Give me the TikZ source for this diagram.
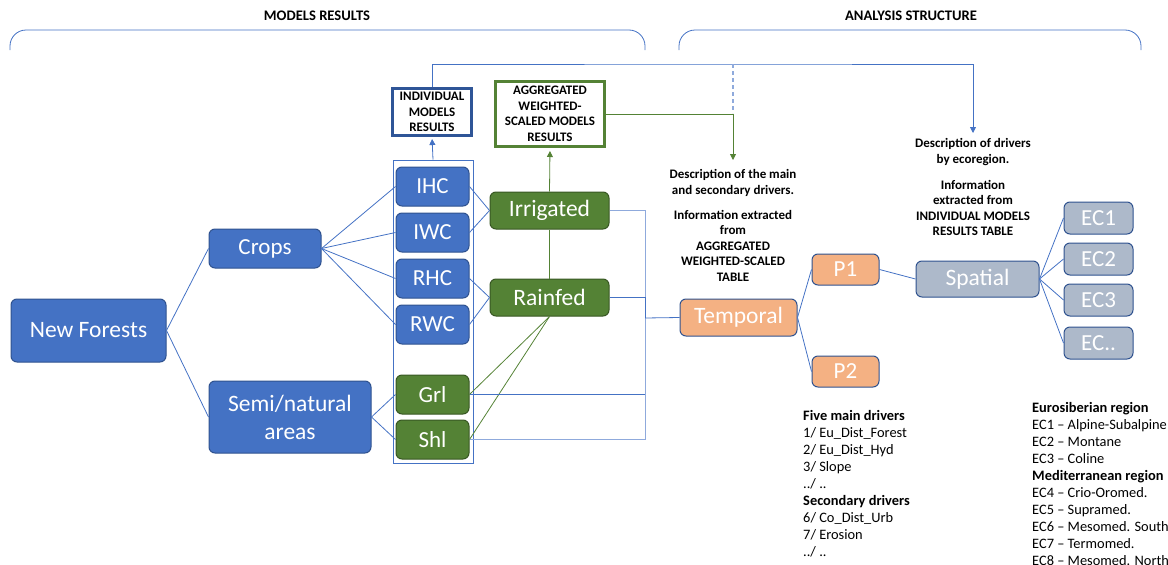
\documentclass[tikz,border=0pt]{standalone}
\usepackage{fontspec}
\setmainfont{Carlito}
\usetikzlibrary{positioning,arrows.meta}
\definecolor{bl1}{RGB}{68,114,196}
\definecolor{bl2}{RGB}{47,82,143}
\definecolor{bl3}{RGB}{47,85,151}
\definecolor{bl4}{RGB}{143,170,220}
\definecolor{gr1}{RGB}{84,130,53}
\definecolor{gr2}{RGB}{56,87,35}
\definecolor{or1}{RGB}{244,177,131}
\definecolor{sl1}{RGB}{173,185,202}

\begin{document}
\begin{tikzpicture}[
    x=1pt, y=-1pt,
    e/.style={
        rounded corners=6pt, draw=bl2, line width=1pt,
        text=white, inner sep=0pt,
        font=\fontsize{23}{27}\selectfont
    },
    eb/.style={e, fill=bl1},
    eg/.style={e, fill=gr1, draw=gr2},
    eo/.style={e, fill=or1},
    es/.style={e, fill=sl1},
    big/.style={font=\fontsize{23.5}{28}\selectfont},
    sm/.style={minimum width=73, minimum height=39},
    ec/.style={es, minimum width=69, minimum height=32},
    l/.style={line width=0.8pt, color=bl1},
    ll/.style={line width=0.8pt, color=bl4},
    lg/.style={line width=0.8pt, color=gr1},
    d/.style={dash pattern=on 4pt off 3pt, line width=1.3pt, color=bl4},
    ar/.style={-{Triangle[width=6pt,length=6pt]}},
    hd/.style={font=\bfseries\fontsize{14.6}{17}\selectfont},
    tb/.style={align=center, inner sep=0pt, font=\bfseries\fontsize{13}{15.5}\selectfont},
    tl/.style={align=left, anchor=north west, inner sep=0pt, font=\fontsize{14.4}{17}\selectfont}
]
\clip (0,0) rectangle (1168,565);

% headers
\node [hd] (h1) at (317,16) {MODELS RESULTS};
\node [hd] (h2) at (911,16) {ANALYSIS STRUCTURE};
\draw [l, rounded corners=16pt] (10,50) |- (327,30) -| (645,50);
\draw [l, rounded corners=16pt] (679,50) |- (910,30) -| (1141,50);

% models
\node [eb, big, minimum width=155, minimum height=63] (nf) at (88.5,330.5) {New Forests};
\node [eb, minimum width=112, minimum height=39] (crops) at (265,248.5) {Crops};
\node [eb, minimum width=162, minimum height=72, align=center, font=\fontsize{23.5}{28}\selectfont] (semi) at (290,417) {Semi/natural\\areas};

\node [draw=bl1, line width=0.8pt, minimum width=80, minimum height=303] (col) at (433,311.5) {};
\node [eb, sm] (ihc) at (432.5,186.5) {IHC};
\node [eb, sm, below=6pt of ihc] (iwc) {IWC};
\node [eb, sm, below=6pt of iwc] (rhc) {RHC};
\node [eb, sm, below=6pt of rhc] (rwc) {RWC};
\node [eg, sm] (grl) at (432.5,394.5) {Grl};
\node [eg, sm, below=5pt of grl] (shl) {Shl};

\node [eg, big, minimum width=119, minimum height=37] (irr) at (549.5,210.5) {Irrigated};
\node [eg, big, minimum width=119, minimum height=37] (rain) at (549.5,297.5) {Rainfed};

\node [tb, draw=bl3, line width=3pt, minimum width=79, minimum height=47] (ind) at (432,112) {INDIVIDUAL\\MODELS\\RESULTS};
\node [tb, draw=gr1, line width=3pt, minimum width=109, minimum height=65] (agg) at (550,114) {AGGREGATED\\WEIGHTED-\\SCALED MODELS\\RESULTS};

% analysis
\node [eo, big, minimum width=117, minimum height=37] (temp) at (738.5,317.5) {Temporal};
\node [eo, minimum width=67, minimum height=31] (p1) at (845.5,269.5) {P1};
\node [eo, minimum width=67, minimum height=31] (p2) at (845.5,371.5) {P2};
\node [es, big, minimum width=123, minimum height=36] (sp) at (977.5,279) {Spatial};
\node [ec] (ec1) at (1098.5,218) {EC1};
\node [ec] (ec2) at (1098.5,259) {EC2};
\node [ec] (ec3) at (1098.5,300) {EC3};
\node [ec] (ec4) at (1098.5,343) {EC..};

\node [tb] (d1a) at (733,183) {Description of the main\\and secondary drivers.};
\node [tb] (d1b) at (733,245.5) {Information extracted\\from\\AGGREGATED\\WEIGHTED-SCALED\\TABLE};
\node [tb] (d2a) at (973,152) {Description of drivers\\by ecoregion.};
\node [tb] (d2b) at (973,208) {Information\\extracted from\\INDIVIDUAL MODELS\\RESULTS TABLE};

\node [tl] (lst1) at (803,410) {\textbf{Five main drivers}\\1/ Eu\_Dist\_Forest\\2/ Eu\_Dist\_Hyd\\3/ Slope\\../ ..\\\textbf{Secondary drivers}\\6/ Co\_Dist\_Urb\\7/ Erosion\\../ ..};
\node [tl] (lst2) at (1032,402) {\textbf{Eurosiberian region}\\EC1 -- Alpine-Subalpine\\EC2 -- Montane\\EC3 -- Coline\\\textbf{Mediterranean region}\\EC4 -- Crio-Oromed.\\EC5 -- Supramed.\\EC6 -- Mesomed. South\\EC7 -- Termomed.\\EC8 -- Mesomed. North};

% connectors
\draw [l] (nf.east) -- (crops.west);
\draw [l] (nf.east) -- (semi.west);
\foreach \n in {ihc,iwc,rhc,rwc}
    \draw [l] (crops.east) -- (\n.west);
\foreach \n in {grl,shl}
    \draw [l] (semi.east) -- (\n.west);
\foreach \n in {ihc,iwc}
    \draw [l] (\n.east) -- (irr.west);
\foreach \n in {rhc,rwc}
    \draw [l] (\n.east) -- (rain.west);
\draw [lg] (irr) -- (rain);
\foreach \n in {grl,shl}
    \draw [lg] (rain.south) -- (\n.east);
\draw [lg, ar, shorten >=3pt] (irr.north) -- (agg.south);
\draw [l, ar, shorten >=2pt] (col.north) -- (ind.south);

\coordinate (bus) at (645,318);
\draw [ll] (irr.east) -| (bus);
\draw [l] (rain.east) -| (bus);
\draw [l] (grl.east) -| (bus);
\draw [ll] (shl.east) -| (bus);
\draw [l] (bus) -- (temp.west);

\draw [l] (temp.east) -- (p1.west);
\draw [l] (temp.east) -- (p2.west);
\draw [l] (p1.east) -- (sp.west);
\foreach \n in {ec1,ec2,ec3,ec4}
    \draw [l] (sp.east) -- (\n.west);

\coordinate (tc) at (733,64);
\coordinate (dj) at (733,113);
\coordinate (t1) at (733,160);
\coordinate (t2) at (973,133);
\draw [l, ar] (ind.north) |- (tc) -| (t2);
\draw [d] (tc) -- (dj);
\draw [lg, ar] (agg.east) -| (t1);

\end{tikzpicture}
\end{document}
